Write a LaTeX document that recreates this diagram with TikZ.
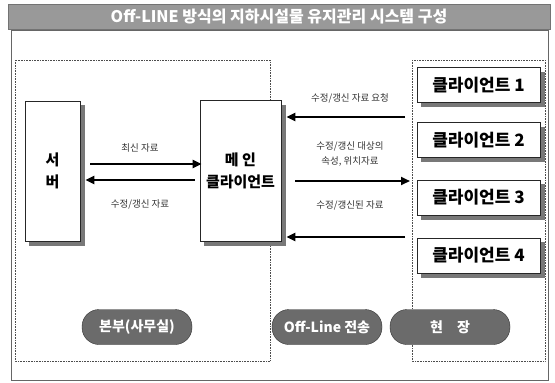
\documentclass[tikz,border=0pt]{standalone}
\usepackage{fontspec}
\setmainfont{Noto Sans CJK KR}
\newfontfamily\kr{Noto Sans CJK KR}
\usetikzlibrary{arrows.meta}
\definecolor{shadowgray}{RGB}{120,120,120}
\begin{document}
\begin{tikzpicture}[x=1pt,y=-1pt,
  box/.style={draw=black!85,line width=0.6pt,fill=white,inner sep=0pt},
  client/.style={box,minimum width=123pt,minimum height=35pt,font=\kr\bfseries\fontsize{17}{19}\selectfont},
  big/.style={box,font=\kr\bfseries\fontsize{15}{22}\selectfont,align=center},
  lbl/.style={font=\kr\fontsize{9.5}{12}\selectfont,text=black!80,inner sep=1pt},
  pill/.style={draw=black!80,fill=black!58,rounded corners=17pt,minimum height=35pt,
     text=white,font=\kr\bfseries\fontsize{14}{16}\selectfont},
  zone/.style={draw=black!70,densely dotted,line width=0.6pt},
  shadowstrip/.style={fill=shadowgray,draw=none},
  arr/.style={line width=2.2pt,-{Triangle[length=9pt,width=8pt]}}]
\useasboundingbox (0,0) rectangle (555,383);
% title band
\node[fill=black!40,draw=black!55,minimum width=542pt,minimum height=25pt,inner sep=0pt,
  text=white,font=\kr\bfseries\fontsize{16}{18}\selectfont] (title) at (279,17)
  {Off-LINE 방식의 지하시설물 유지관리 시스템 구성};
% outer frame
\draw[black!60,line width=0.6pt] (11,30) rectangle (548,380);
% zones
\draw[zone] (15,60) rectangle (270,361);
\draw[zone] (412,60) rectangle (545,361);
% main nodes
\node[big,minimum width=55pt,minimum height=140pt] (srv) at (52.5,171) {서\\버};
\node[big,minimum width=81pt,minimum height=141pt] (main) at (240.5,171) {메 인\\클라이언트};
% clients
\node[client] (c1) at (478.5,85) {클라이언트 1};
\node[client] (c2) at (478.5,140) {클라이언트 2};
\node[client] (c3) at (478.5,197.5) {클라이언트 3};
\node[client] (c4) at (478.5,255.5) {클라이언트 4};
% shadow strips, right and bottom of each box
\foreach \b in {srv,main,c1,c2,c3,c4}{
  \fill[shadowstrip] ([xshift=0.3pt,yshift=-4.5pt]\b.north east) rectangle ([xshift=4.5pt,yshift=-4.5pt]\b.south east);
  \fill[shadowstrip] ([xshift=4.5pt,yshift=-0.3pt]\b.south west) rectangle ([xshift=4.5pt,yshift=-4.5pt]\b.south east);
}
% server <-> main
\draw[arr] ([xshift=10pt,yshift=7pt]srv.east) -- ([xshift=2pt,yshift=7pt]main.west);
\draw[arr] ([xshift=-5pt,yshift=-9pt]main.west) -- ([xshift=5pt,yshift=-9pt]srv.east);
\node[lbl] (l1) at (140,148) {최신 자료};
\node[lbl] (l2) at (140,204) {수정/갱신 자료};
% main <-> clients
\coordinate (a1s) at (405,117);
\coordinate (a2s) at (295,181); \coordinate (a2e) at (410,181);
\coordinate (a3s) at (405,237);
\draw[arr] (a1s) -- ([xshift=5pt]a1s -| main.east);
\draw[arr] (a2s) -- (a2e);
\draw[arr] (a3s) -- ([xshift=5pt]a3s -| main.east);
\node[lbl] (l3) at (350,98) {수정/갱신 자료 요청};
\node[lbl] (l4) at (350,146) {수정/갱신 대상의};
\node[lbl] (l5) at (350,161) {속성, 위치자료};
\node[lbl] (l6) at (350,205) {수정/갱신된 자료};
% pills
\node[pill,minimum width=110pt] (p1) at (137,327) {본부(사무실)};
\node[pill,minimum width=110pt] (p2) at (327,327) {Off-Line 전송};
\node[pill,minimum width=120pt] (p3) at (450,327) {현\quad 장};
\end{tikzpicture}
\end{document}
